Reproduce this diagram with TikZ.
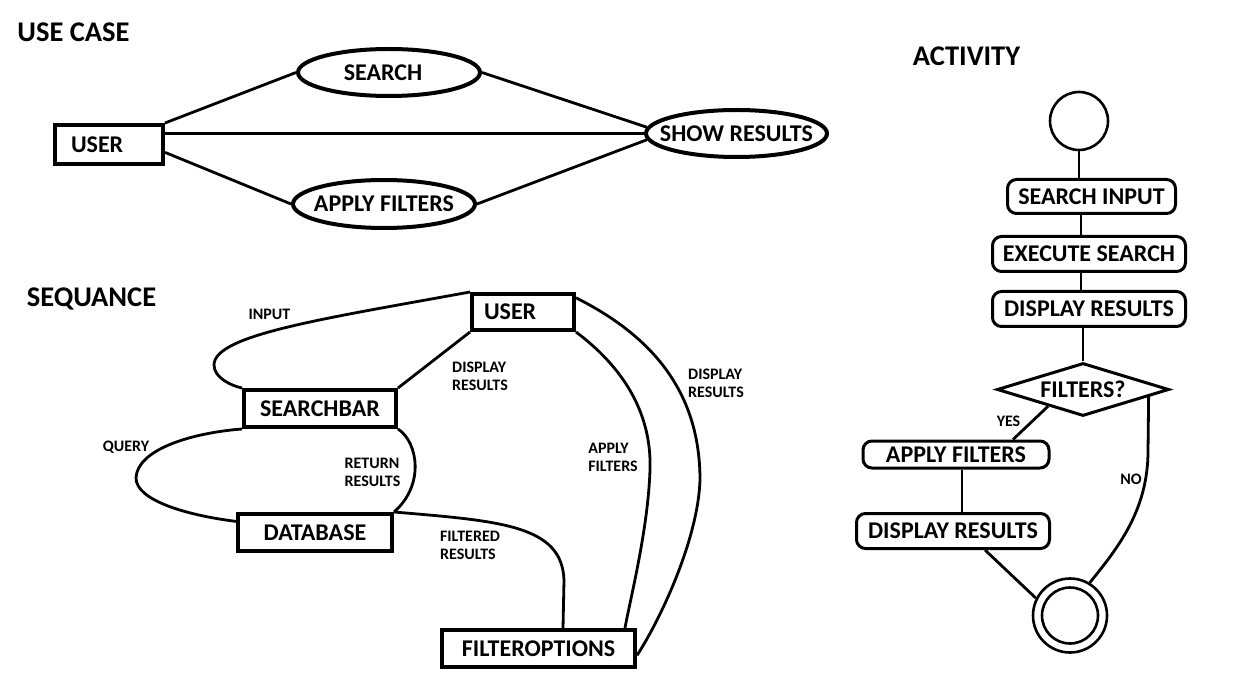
\documentclass[tikz,border=0pt]{standalone}
\usepackage{fontspec}
\setmainfont{Carlito}
\usetikzlibrary{shapes.geometric,calc}
\begin{document}
\begin{tikzpicture}[x=1pt,y=-1pt,
  fhead/.style={font=\fontsize{28.5}{30}\selectfont\bfseries, inner sep=0pt, anchor=base},
  lbl/.style={font=\fontsize{16}{18}\selectfont\bfseries, inner sep=0pt, align=left},
  txt/.style={font=\fontsize{24}{26}\selectfont\bfseries, text height=15.2pt, text depth=0pt},
  ucell/.style={txt, ellipse, draw, line width=4pt, inner xsep=-25pt, inner ysep=-5pt},
  sqbox/.style={txt, rectangle, draw, line width=4pt, inner sep=0pt},
  actbox/.style={txt, rectangle, rounded corners=9pt, draw, line width=3pt, inner sep=0pt},
  conn/.style={line width=2.8pt},
]
\fill[white] (0,0) rectangle (1247,692);
\useasboundingbox (0,0) rectangle (1247,692);

% ---------- USE CASE ----------
\node[fhead] (hUC) at (73.5,42) {USE CASE};
\node[sqbox, minimum height=39pt, text width=76pt, inner xsep=16pt, align=left] (ucuser) at (109,144.5) {USER};
\node[ucell, minimum width=182pt, minimum height=47pt] (ucsearch) at (389,72.5) {\hspace*{-12pt}SEARCH};
\node[ucell, minimum width=182pt, minimum height=48pt] (ucapply) at (384,204) {APPLY FILTERS};
\node[ucell, minimum width=181pt, minimum height=47pt] (ucshow) at (736.5,133.5) {SHOW RESULTS};
\draw[conn] (ucuser.north east) -- (ucsearch.west);
\draw[conn] (ucuser.east |- ucshow.west) -- (ucshow.west);
\draw[conn] (ucuser.-8) -- (ucapply.west);
\draw[conn] (ucsearch.east) -- (ucshow.176);
\draw[conn] (ucapply.east) -- (ucshow.184);

% ---------- SEQUANCE ----------
\node[fhead] (hseq) at (91.5,307) {SEQUANCE};
\node[sqbox, minimum height=36pt, text width=78pt, inner xsep=12pt, align=left] (squser) at (523,312) {USER};
\node[sqbox, minimum width=152pt, minimum height=37pt] (sqsearch) at (320,408.5) {SEARCHBAR};
\node[sqbox, minimum width=154pt, minimum height=37pt] (sqdb) at (315,532.5) {DATABASE};
\node[sqbox, minimum width=193pt, minimum height=37pt] (sqfilt) at (538.5,648.5) {FILTEROPTIONS};
\coordinate (fend) at ($(sqfilt.north)+(24.5,0)$);
\coordinate (aend2) at ($(sqfilt.north)+(86.5,0)$);

\draw[conn] (squser.north west) .. controls (322,319) and (214,335) .. (214,365)
  .. controls (214,378) and (232,386) .. (sqsearch.north west);
\draw[conn] (squser.south west) -- (sqsearch.north east);
\draw[conn] (sqsearch.south west) .. controls (190,433) and (137,450) .. (136,478)
  .. controls (136,500) and (185,515) .. (sqdb.172);
\draw[conn] (sqsearch.south east) .. controls (418,442) and (425,485) .. (sqdb.north east);
\draw[conn] (sqdb.north east) .. controls (500,521) and (562,525) .. (564,580) -- (fend);
\draw[conn] (squser.south east) .. controls (620,365) and (652,410) .. (650,470)
  .. controls (648,530) and (630,600) .. (aend2);
\draw[conn] (squser.15) .. controls (650,335) and (700,390) .. (700,480)
  .. controls (698,540) and (660,620) .. (sqfilt.-4);

\node[lbl, anchor=base] (linput) at (269.5,320) {INPUT};
\node[lbl, anchor=base] (lquery) at (126,451) {QUERY};
\node[lbl] (ldisp1) at (480,376) {DISPLAY\\RESULTS};
\node[lbl] (ldisp2) at (716,383.5) {DISPLAY\\RESULTS};
\node[lbl] (lapply) at (613,457.5) {APPLY\\FILTERS};
\node[lbl] (lret) at (372.5,472) {RETURN\\RESULTS};
\node[lbl] (lfilt) at (470,545) {FILTERED\\RESULTS};

% ---------- ACTIVITY ----------
\node[fhead] (hact) at (966.5,66) {ACTIVITY};
\node[circle, draw, line width=2.6pt, minimum size=58pt, inner sep=0pt] (astart) at (1079,121) {};
\node[actbox, minimum width=168pt, minimum height=34pt] (asin) at (1091.5,196.5) {SEARCH INPUT};
\node[actbox, minimum width=193pt, minimum height=35pt] (aexe) at (1089,254) {EXECUTE SEARCH};
\node[actbox, minimum width=193pt, minimum height=35pt] (adisp) at (1089,309) {DISPLAY RESULTS};
\node[txt, diamond, draw, line width=3pt, aspect=3.2, minimum width=172pt, minimum height=53pt,
      inner xsep=-40pt, inner ysep=-7pt] (adec) at (1083,389.5) {FILTERS?};
\node[actbox, minimum width=186pt, minimum height=27pt] (aapp) at (956,454.5) {APPLY FILTERS};
\node[actbox, minimum width=193pt, minimum height=35pt] (adres) at (953,531) {DISPLAY RESULTS};
\node[circle, draw, line width=2.6pt, minimum size=74pt, inner sep=0pt] (aend) at (1070,615.5) {};
\node[circle, draw, line width=2.6pt, minimum size=56pt, inner sep=0pt] (aendi) at (aend) {};

\coordinate (acol) at (1081,0);
\coordinate (ayes) at ($(aapp.north)+(57,0)$);
\coordinate (aapb) at ($(aapp.south)+(6,0)$);
\coordinate (adrb) at ($(adres.south)+(32,0)$);

\draw[conn] (astart.south) -- (astart.south |- asin.north);
\draw[conn] (asin.south -| acol) -- (aexe.north -| acol);
\draw[conn] (aexe.south -| acol) -- (adisp.north -| acol);
\draw[conn] (adisp.south -| adec.north) -- (adec.north);
\draw[conn] ($(adec.west)!0.6!(adec.south)$) -- (ayes);
\draw[conn] (aapb) -- (aapb |- adres.north);
\draw[conn] (adrb) -- (aend.153);
\draw[conn] ($(adec.east)!0.25!(adec.south)$) -- (1148,451)
  .. controls (1148,510) and (1118,548) .. (aend.59);

\node[lbl, anchor=base] (lyes) at (1008.5,426) {YES};
\node[lbl, anchor=base] (lno) at (1131,484) {NO};
\end{tikzpicture}
\end{document}
